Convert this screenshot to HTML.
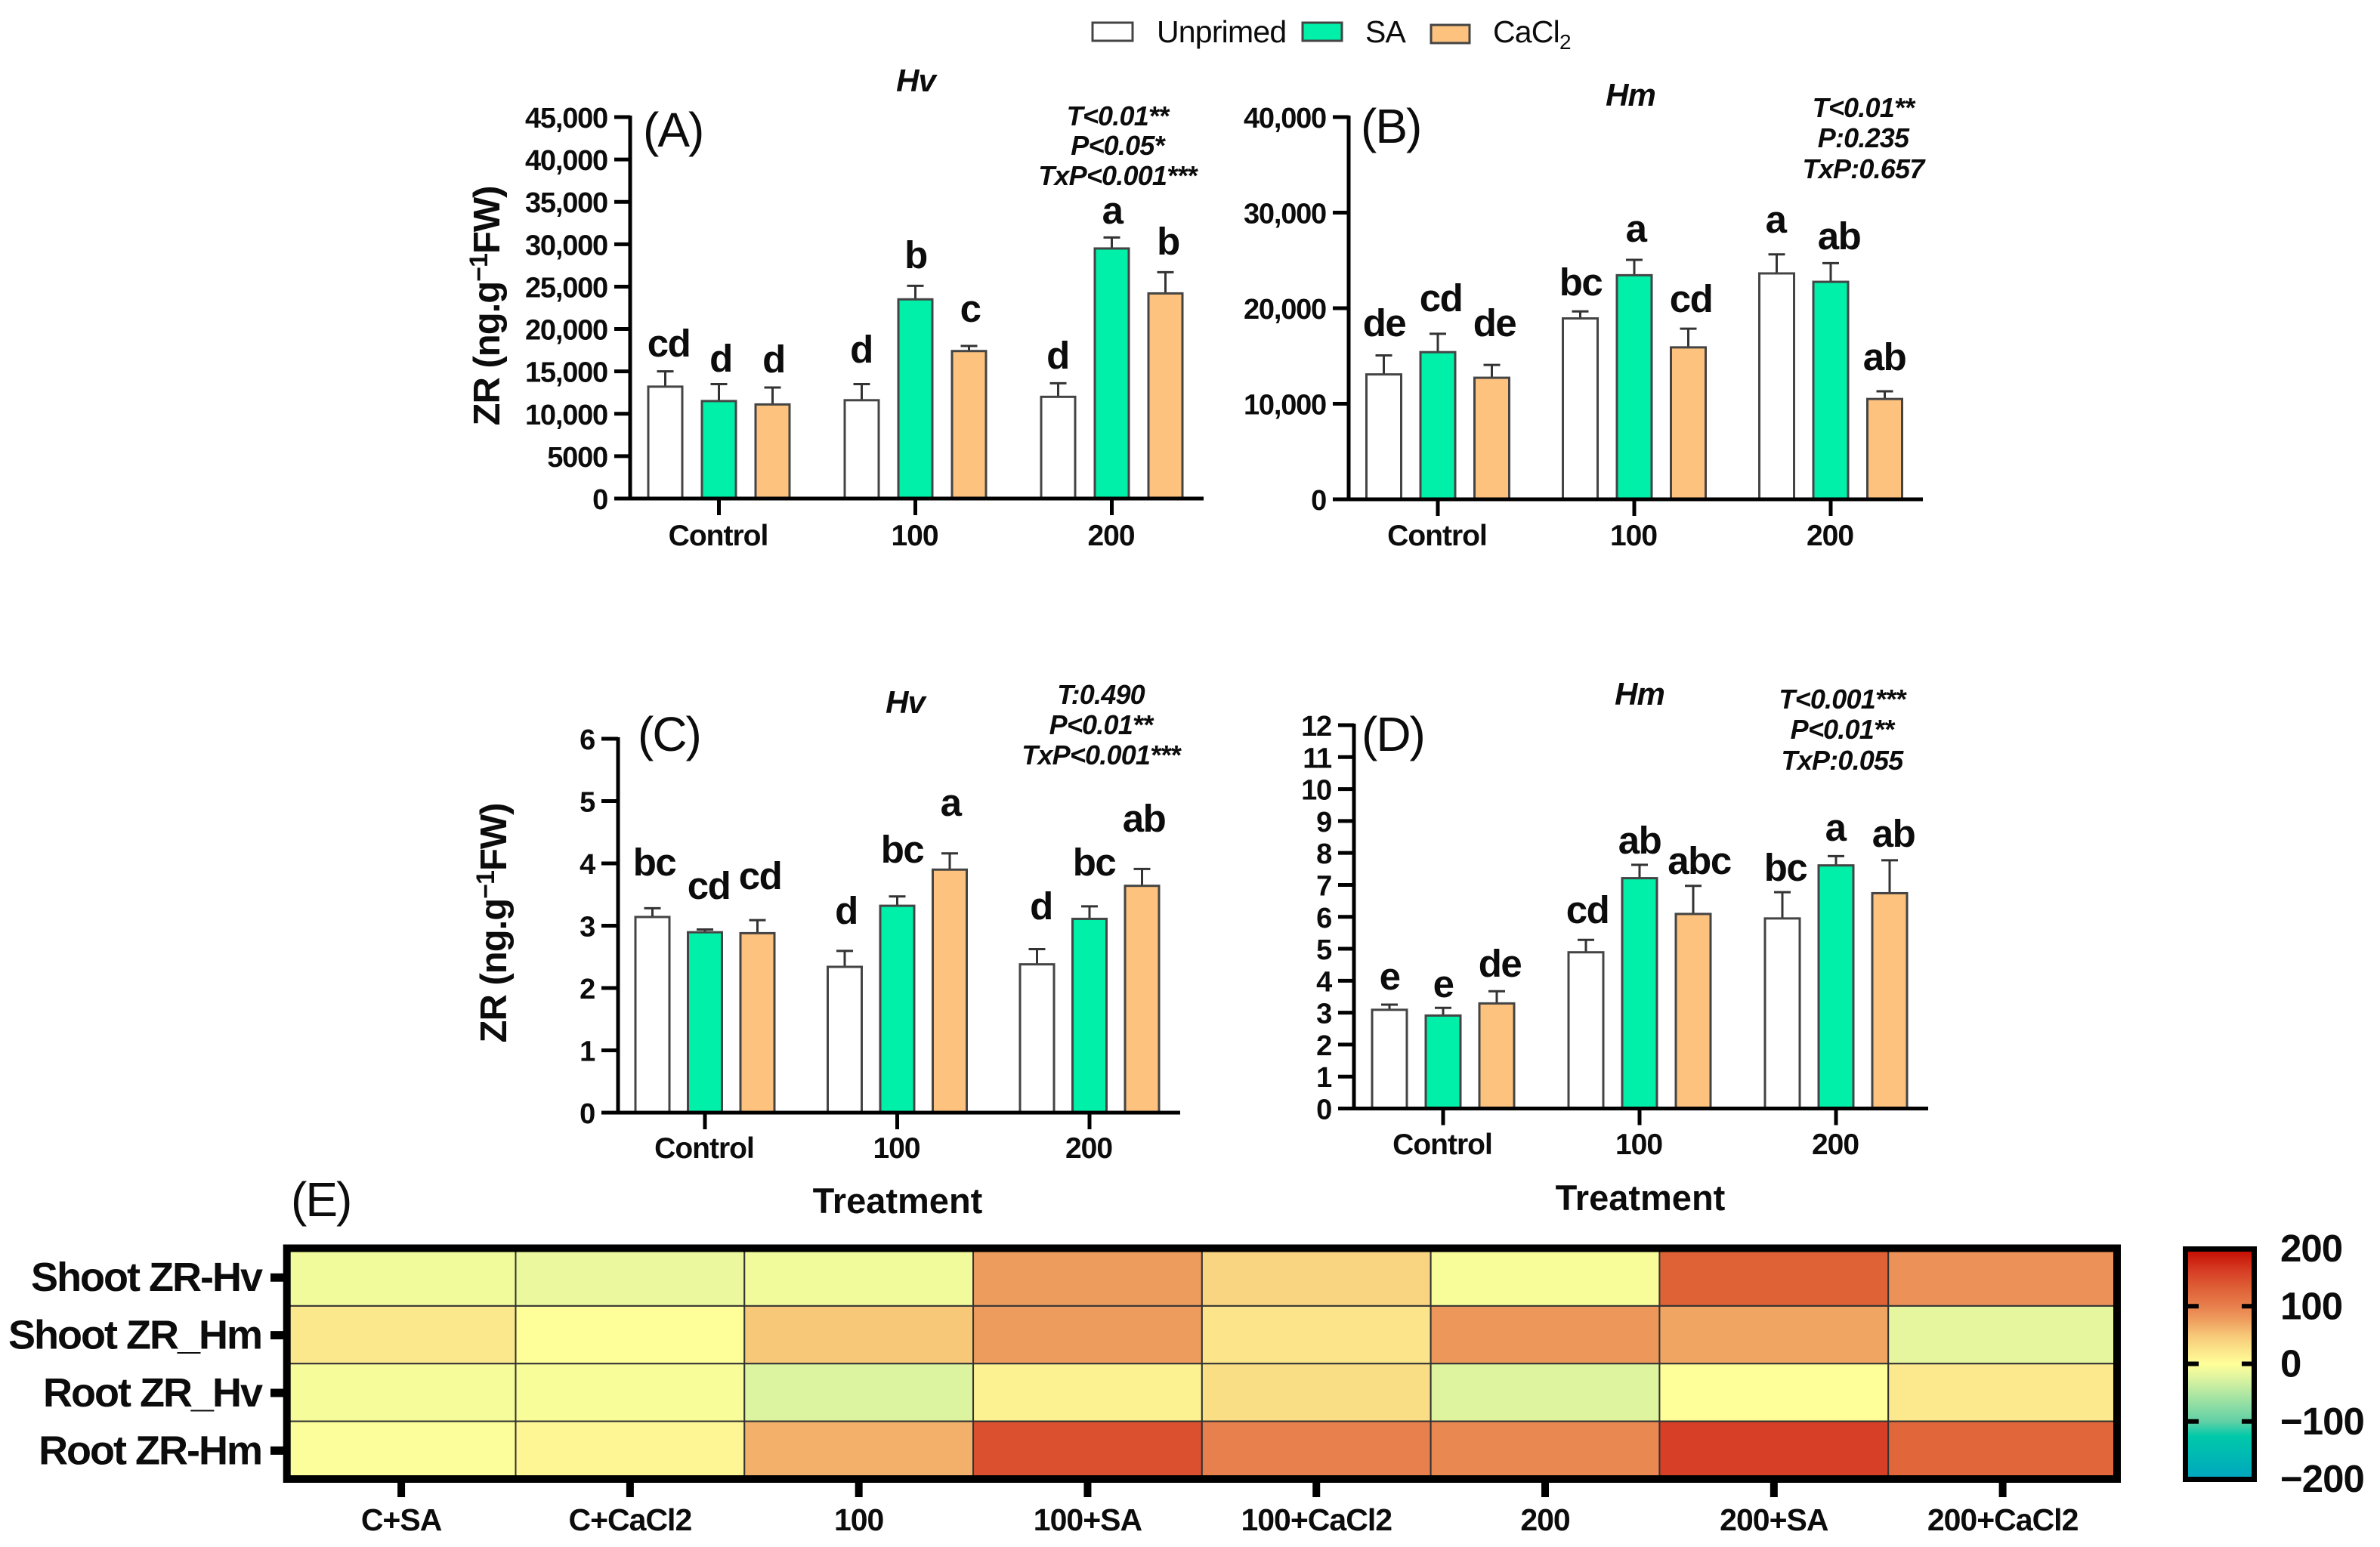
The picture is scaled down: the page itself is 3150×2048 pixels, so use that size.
<!DOCTYPE html>
<html lang="en">
<head>
<meta charset="utf-8">
<title>ZR content by treatment and priming</title>
<style>
html,body{margin:0;padding:0;background:#fff;width:3150px;height:2048px;overflow:hidden}
svg{display:block}
text{font-family:"Liberation Sans",Arial,sans-serif;fill:#0c0c0c}
.tick{font-size:38px;font-weight:700;text-anchor:end;letter-spacing:-1.2px}
.cat{font-size:39px;font-weight:700;text-anchor:middle;letter-spacing:-1px}
.let{font-size:51px;font-weight:700;text-anchor:middle;letter-spacing:-1.5px}
.stat{font-size:36px;font-weight:700;font-style:italic;text-anchor:middle;letter-spacing:-.8px}
.sp{font-size:42px;font-weight:700;font-style:italic;text-anchor:middle;letter-spacing:-1px}
.pl{font-size:64px;font-weight:400;letter-spacing:-2px}
.yt{font-size:49px;font-weight:700;text-anchor:middle;letter-spacing:-1px}
.xt{font-size:47px;font-weight:700;text-anchor:middle}
.lg{font-size:41px;font-weight:400;letter-spacing:-.8px}
.hr{font-size:54px;font-weight:700;text-anchor:end;letter-spacing:-2px}
.hc{font-size:41px;font-weight:700;text-anchor:middle;letter-spacing:-1px}
.cb{font-size:51px;font-weight:700;letter-spacing:-1px}
</style>
</head>
<body>
<svg id="figure" xmlns="http://www.w3.org/2000/svg" width="3150" height="2048" viewBox="0 0 3150 2048">
  <defs><linearGradient id="cbGrad" x1="0" y1="0" x2="0" y2="1"></linearGradient></defs>
  <rect width="3150" height="2048" fill="#fff"/>

  <g id="legend">
    <g>
      <rect x="1446" y="30" width="53" height="24" fill="#fff" stroke="#444" stroke-width="3"/>
      <text class="lg" x="1531" y="56">Unprimed</text>
    </g>
    <g>
      <rect x="1724" y="30" width="52" height="24" fill="#00f0aa" stroke="#444" stroke-width="3"/>
      <text class="lg" x="1807" y="56">SA</text>
    </g>
    <g>
      <rect x="1894" y="33" width="51" height="24" fill="#fdc27e" stroke="#444" stroke-width="3"/>
      <text class="lg" x="1976" y="56">CaCl<tspan font-size="28" dy="9">2</tspan></text>
    </g>
  </g>

  <g id="panelA"></g>
  <g id="panelB"></g>
  <g id="panelC"></g>
  <g id="panelD"></g>

  <!-- Panel A text -->
  <g>
    <text class="pl" x="851" y="194">(A)</text>
    <text class="sp" x="1212" y="121">Hv</text>
    <text class="stat" x="1479" y="166">T&lt;0.01**</text>
    <text class="stat" x="1479" y="205">P&lt;0.05*</text>
    <text class="stat" x="1479" y="245">TxP&lt;0.001***</text>
    <text class="yt" transform="translate(661,405) rotate(-90)">ZR (ng.g<tspan font-size="34" dy="-16">−1</tspan><tspan dy="16">FW)</tspan></text>
    <text class="let" x="885" y="472">cd</text>
    <text class="let" x="954" y="492">d</text>
    <text class="let" x="1024" y="493">d</text>
    <text class="let" x="1140" y="480">d</text>
    <text class="let" x="1212" y="355">b</text>
    <text class="let" x="1284" y="426">c</text>
    <text class="let" x="1400" y="488">d</text>
    <text class="let" x="1472" y="296">a</text>
    <text class="let" x="1546" y="337">b</text>
  </g>

  <!-- Panel B text -->
  <g>
    <text class="pl" x="1801" y="189">(B)</text>
    <text class="sp" x="2158" y="140">Hm</text>
    <text class="stat" x="2466" y="155">T&lt;0.01**</text>
    <text class="stat" x="2466" y="195">P:0.235</text>
    <text class="stat" x="2466" y="236">TxP:0.657</text>
    <text class="let" x="1832" y="445">de</text>
    <text class="let" x="1907" y="412">cd</text>
    <text class="let" x="1978" y="445">de</text>
    <text class="let" x="2092" y="391">bc</text>
    <text class="let" x="2165" y="320">a</text>
    <text class="let" x="2238" y="413">cd</text>
    <text class="let" x="2350" y="308">a</text>
    <text class="let" x="2434" y="330">ab</text>
    <text class="let" x="2494" y="490">ab</text>
  </g>

  <!-- Panel C text -->
  <g>
    <text class="pl" x="844" y="994">(C)</text>
    <text class="sp" x="1198" y="944">Hv</text>
    <text class="stat" x="1457" y="932">T:0.490</text>
    <text class="stat" x="1457" y="972">P&lt;0.01**</text>
    <text class="stat" x="1457" y="1012">TxP&lt;0.001***</text>
    <text class="yt" transform="translate(670,1222) rotate(-90)">ZR (ng.g<tspan font-size="34" dy="-16">−1</tspan><tspan dy="16">FW)</tspan></text>
    <text class="xt" x="1188" y="1606">Treatment</text>
    <text class="let" x="866" y="1159">bc</text>
    <text class="let" x="938" y="1190">cd</text>
    <text class="let" x="1006" y="1177">cd</text>
    <text class="let" x="1120" y="1223">d</text>
    <text class="let" x="1194" y="1142">bc</text>
    <text class="let" x="1258" y="1080">a</text>
    <text class="let" x="1378" y="1217">d</text>
    <text class="let" x="1448" y="1159">bc</text>
    <text class="let" x="1514" y="1101">ab</text>
  </g>

  <!-- Panel D text -->
  <g>
    <text class="pl" x="1802" y="994">(D)</text>
    <text class="sp" x="2170" y="933">Hm</text>
    <text class="stat" x="2438" y="938">T&lt;0.001***</text>
    <text class="stat" x="2438" y="978">P&lt;0.01**</text>
    <text class="stat" x="2438" y="1019">TxP:0.055</text>
    <text class="xt" x="2171" y="1602">Treatment</text>
    <text class="let" x="1839" y="1310">e</text>
    <text class="let" x="1910" y="1320">e</text>
    <text class="let" x="1985" y="1293">de</text>
    <text class="let" x="2101" y="1222">cd</text>
    <text class="let" x="2170" y="1130">ab</text>
    <text class="let" x="2249" y="1157">abc</text>
    <text class="let" x="2363" y="1166">bc</text>
    <text class="let" x="2429" y="1113">a</text>
    <text class="let" x="2506" y="1121">ab</text>
  </g>

  <!-- Panel E -->
  <text class="pl" x="385" y="1610">(E)</text>
  <g id="heatmap"></g>
  <g id="colorbar"></g>
</svg>

<script>
// Shared categories and series
const categories = ['Control', '100', '200'];
const seriesNames = ['unprimed', 'sa', 'cacl2'];

// Panel A (Shoot, Hv)
const aTickValues = [0, 5000, 10000, 15000, 20000, 25000, 30000, 35000, 40000, 45000];
const aTickLabels = ['0', '5000', '10,000', '15,000', '20,000', '25,000', '30,000', '35,000', '40,000', '45,000'];
const aUnprimed = [13200, 11600, 12000];
const aSA = [11500, 23500, 29500];
const aCaCl2 = [11100, 17400, 24200];
const aUnprimedErr = [1800, 1900, 1600];
const aSAErr = [2000, 1600, 1300];
const aCaCl2Err = [2000, 600, 2500];

// Panel B (Shoot, Hm)
const bTickValues = [0, 10000, 20000, 30000, 40000];
const bTickLabels = ['0', '10,000', '20,000', '30,000', '40,000'];
const bUnprimed = [13070, 18930, 23640];
const bSA = [15400, 23450, 22760];
const bCaCl2 = [12720, 15900, 10500];
const bUnprimedErr = [1990, 730, 1990];
const bSAErr = [1920, 1610, 1950];
const bCaCl2Err = [1340, 1960, 800];

// Panel C (Root, Hv)
const cTickValues = [0, 1, 2, 3, 4, 5, 6];
const cTickLabels = ['0', '1', '2', '3', '4', '5', '6'];
const cUnprimed = [3.14, 2.34, 2.38];
const cSA = [2.895, 3.32, 3.11];
const cCaCl2 = [2.88, 3.90, 3.64];
const cUnprimedErr = [0.14, 0.255, 0.245];
const cSAErr = [0.045, 0.15, 0.2];
const cCaCl2Err = [0.21, 0.26, 0.27];

// Panel D (Root, Hm)
const dTickValues = [0, 1, 2, 3, 4, 5, 6, 7, 8, 9, 10, 11, 12];
const dTickLabels = ['0', '1', '2', '3', '4', '5', '6', '7', '8', '9', '10', '11', '12'];
const dUnprimed = [3.09, 4.89, 5.95];
const dSA = [2.91, 7.21, 7.61];
const dCaCl2 = [3.29, 6.09, 6.74];
const dUnprimedErr = [0.16, 0.39, 0.82];
const dSAErr = [0.24, 0.42, 0.29];
const dCaCl2Err = [0.38, 0.88, 1.03];

// Heatmap (Panel E)
const heatRows = ['Shoot ZR-Hv', 'Shoot ZR_Hm', 'Root ZR_Hv', 'Root ZR-Hm'];
const heatCols = ['C+SA', 'C+CaCl2', '100', '100+SA', '100+CaCl2', '200', '200+SA', '200+CaCl2'];
const heatShootHv = [-9, -14, -9, 78, 38, -5, 130, 86];
const heatShootHm = [22, -1, 50, 78, 25, 82, 72, -18];
const heatRootHv = [-6, -5, -25, 12, 30, -23, 0, 20];
const heatRootHm = [-3, 8, 65, 145, 100, 94, 160, 125];
const colorbarTicks = [200, 100, 0, -100, -200];
const colorbarLabels = ['200', '100', '0', '−100', '−200'];
const colorStopValues = [200, 160, 130, 100, 75, 50, 25, 0, -25, -100, -125, -200];
const colorStopHex = ['#c40a00', '#d74026', '#df6237', '#e8804d', '#efa060', '#f7c878', '#fbe48a', '#ffff99', '#dcf3a0', '#5fd0a6', '#00c9a9', '#00a5c0'];

const NS = 'http://www.w3.org/2000/svg';
const seriesFill = ['#ffffff', '#00f0aa', '#fdc27e'];

function node(parent, tag, attrs) {
  const el = document.createElementNS(NS, tag);
  for (const k in attrs) el.setAttribute(k, attrs[k]);
  parent.appendChild(el);
  return el;
}

function linear(d0, d1, r0, r1) {
  return function (v) { return r0 + (v - d0) * (r1 - r0) / (d1 - d0); };
}

function drawPanel(id, key, g, tickValues, tickLabels, series, errors) {
  const root = document.getElementById(id);
  const y = linear(tickValues[0], tickValues[tickValues.length - 1], g.y0, g.yTop);
  const catX = function (i) { return g.cx0 + i * g.spacing; };
  const barX = function (i, s) { return catX(i) + (s - 1) * g.step; };

  series.forEach(function (vals, s) {
    vals.forEach(function (v, i) {
      const cx = barX(i, s);
      const top = y(v + errors[s][i]);
      const err = node(root, 'path', {
        d: 'M' + cx + ' ' + y(v) + 'V' + top + 'M' + (cx - 11) + ' ' + top + 'H' + (cx + 11),
        fill: 'none', stroke: '#333', 'stroke-width': 3
      });
      
      
      const bar = node(root, 'rect', {
        x: cx - g.barW / 2, y: y(v), width: g.barW, height: g.y0 - y(v),
        fill: seriesFill[s], stroke: '#444', 'stroke-width': 3
      });
      
      
    });
  });

  const yAxis = node(root, 'line', { x1: g.axisX, x2: g.axisX, y1: g.yTop - 2, y2: g.y0 + 2, stroke: '#000', 'stroke-width': 5 });
  
  
  const xAxis = node(root, 'line', { x1: g.xLeft, x2: g.xRight, y1: g.y0, y2: g.y0, stroke: '#000', 'stroke-width': 5 });
  
  

  tickValues.forEach(function (v, i) {
    const t = node(root, 'line', { x1: g.xLeft, x2: g.axisX, y1: y(v), y2: y(v), stroke: '#000', 'stroke-width': 5 });
    
    
    const lab = node(root, 'text', { class: 'tick', x: g.xLeft - 9, y: y(v) + 14 });
    
    
    lab.textContent = tickLabels[i];
  });

  categories.forEach(function (c, i) {
    const t = node(root, 'line', { x1: catX(i), x2: catX(i), y1: g.y0, y2: g.y0 + 22, stroke: '#000', 'stroke-width': 5 });
    
    
    const lab = node(root, 'text', { class: 'cat', x: catX(i) - 1, y: g.labelY });
    
    
    lab.textContent = c;
  });
}

drawPanel('panelA', 'panel-a',
  { axisX: 834, xLeft: 813, xRight: 1593, y0: 660, yTop: 155, cx0: 951.5, spacing: 260, step: 71, barW: 45, labelY: 722 },
  aTickValues, aTickLabels, [aUnprimed, aSA, aCaCl2], [aUnprimedErr, aSAErr, aCaCl2Err]);
drawPanel('panelB', 'panel-b',
  { axisX: 1785, xLeft: 1764, xRight: 2545, y0: 661, yTop: 155, cx0: 1903, spacing: 260, step: 71.5, barW: 46, labelY: 722 },
  bTickValues, bTickLabels, [bUnprimed, bSA, bCaCl2], [bUnprimedErr, bSAErr, bCaCl2Err]);
drawPanel('panelC', 'panel-c',
  { axisX: 818, xLeft: 796, xRight: 1562, y0: 1473, yTop: 978, cx0: 933, spacing: 254.5, step: 69.5, barW: 45, labelY: 1533 },
  cTickValues, cTickLabels, [cUnprimed, cSA, cCaCl2], [cUnprimedErr, cSAErr, cCaCl2Err]);
drawPanel('panelD', 'panel-d',
  { axisX: 1792, xLeft: 1771, xRight: 2552, y0: 1467.5, yTop: 960, cx0: 1910, spacing: 260, step: 71, barW: 46, labelY: 1528 },
  dTickValues, dTickLabels, [dUnprimed, dSA, dCaCl2], [dUnprimedErr, dSAErr, dCaCl2Err]);

function hexToRgb(h) {
  return [parseInt(h.slice(1, 3), 16), parseInt(h.slice(3, 5), 16), parseInt(h.slice(5, 7), 16)];
}

function colorFor(v) {
  const c = Math.max(-200, Math.min(200, v));
  for (let i = 0; i < colorStopValues.length - 1; i++) {
    const hi = colorStopValues[i];
    const lo = colorStopValues[i + 1];
    if (c <= hi && c >= lo) {
      const t = (hi - c) / (hi - lo);
      const a = hexToRgb(colorStopHex[i]);
      const b = hexToRgb(colorStopHex[i + 1]);
      return 'rgb(' + a.map(function (x, k) { return Math.round(x + (b[k] - x) * t); }).join(',') + ')';
    }
  }
  return '#ffff99';
}

function drawHeatmap() {
  const root = document.getElementById('heatmap');
  const left = 379.7, right = 2802, top = 1652.5, bottom = 1958;
  const heatValues = [heatShootHv, heatShootHm, heatRootHv, heatRootHm];
  const colX = linear(0, heatCols.length, left, right);
  const rowY = linear(0, heatRows.length, top, bottom);

  heatRows.forEach(function (rowName, r) {
    heatCols.forEach(function (colName, c) {
      const cell = node(root, 'rect', {
        x: colX(c), y: rowY(r), width: colX(c + 1) - colX(c), height: rowY(r + 1) - rowY(r),
        fill: colorFor(heatValues[r][c]), stroke: '#333', 'stroke-width': 2
      });
      
      
    });
  });

  const frame = node(root, 'rect', { x: left, y: top, width: right - left, height: bottom - top, fill: 'none', stroke: '#000', 'stroke-width': 10 });
  
  

  heatRows.forEach(function (rowName, r) {
    const cy = (rowY(r) + rowY(r + 1)) / 2 + 0.5;
    const t = node(root, 'line', { x1: 358, x2: 376, y1: cy, y2: cy, stroke: '#000', 'stroke-width': 11 });
    
    
    const lab = node(root, 'text', { class: 'hr', x: 346, y: cy + 18 });
    
    
    lab.textContent = rowName;
  });

  heatCols.forEach(function (colName, c) {
    const cx = (colX(c) + colX(c + 1)) / 2;
    const t = node(root, 'line', { x1: cx, x2: cx, y1: 1962, y2: 1982, stroke: '#000', 'stroke-width': 10 });
    
    
    const lab = node(root, 'text', { class: 'hc', x: cx, y: 2026 });
    
    
    lab.textContent = colName;
  });
}
drawHeatmap();

function drawColorbar() {
  const root = document.getElementById('colorbar');
  const grad = document.getElementById('cbGrad');
  colorStopValues.forEach(function (v, i) {
    node(grad, 'stop', { offset: (200 - v) / 400, 'stop-color': colorStopHex[i] });
  });
  const y = linear(200, -200, 1653, 1958);
  const bar = node(root, 'rect', { x: 2892.5, y: 1653.5, width: 91, height: 305, fill: 'url(#cbGrad)', stroke: '#000', 'stroke-width': 7 });
  
  
  colorbarTicks.forEach(function (v, i) {
    if (v !== 200 && v !== -200) {
      const a = node(root, 'line', { x1: 2896, x2: 2910, y1: y(v), y2: y(v), stroke: '#000', 'stroke-width': 6 });
      
      
      const b = node(root, 'line', { x1: 2967, x2: 2981, y1: y(v), y2: y(v), stroke: '#000', 'stroke-width': 6 });
      
      
    }
    const lab = node(root, 'text', { class: 'cb', x: 3018, y: y(v) + 17 });
    
    
    lab.textContent = colorbarLabels[i];
  });
}
drawColorbar();
</script>
</body>
</html>
